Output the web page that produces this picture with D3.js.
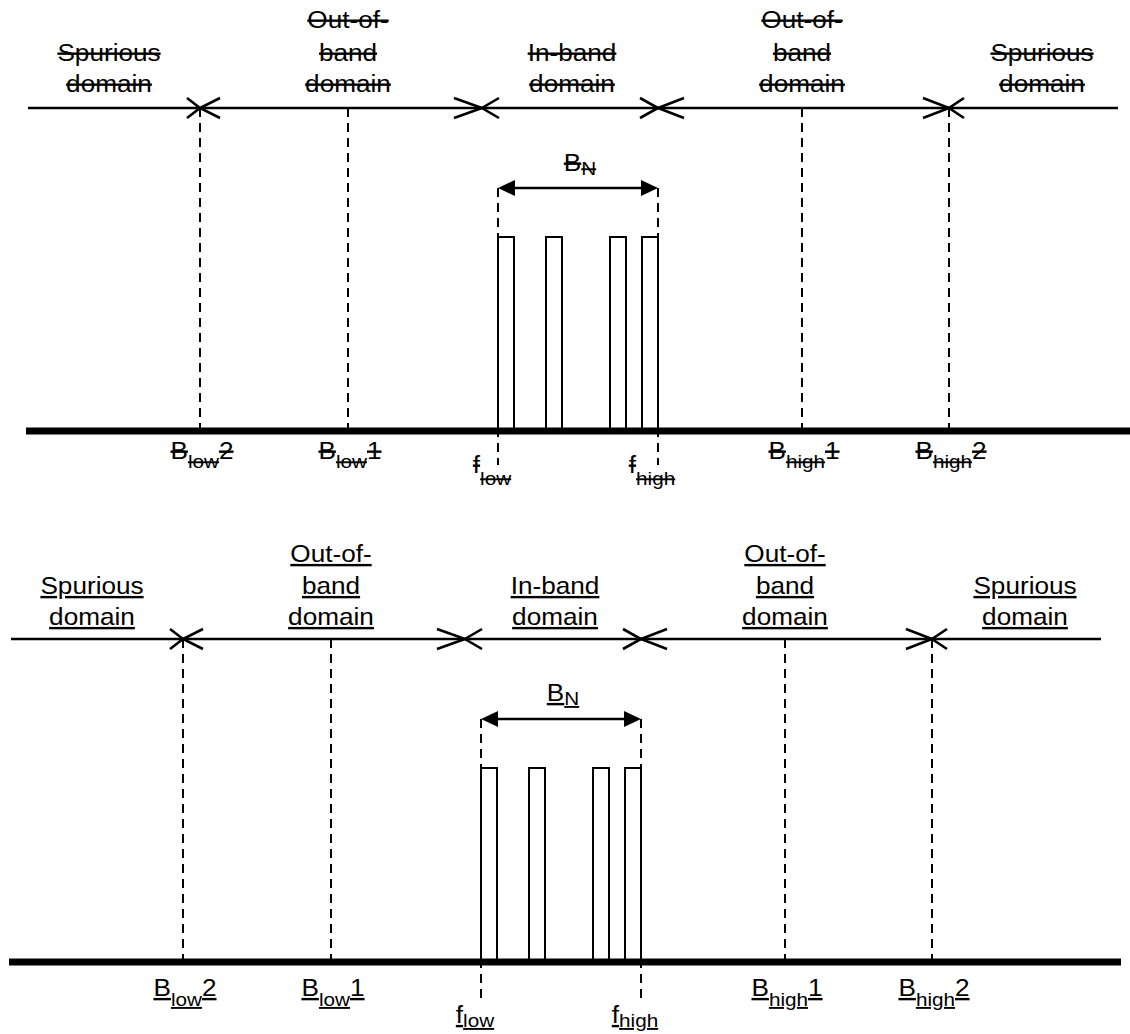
<!DOCTYPE html>
<html>
<head>
<meta charset="utf-8">
<script src="https://cdn.jsdelivr.net/npm/d3@7/dist/d3.min.js"></script>
<style>
  html, body { margin: 0; padding: 0; background: #fff; }
  svg { display: block; }
  text { font-family: "Liberation Sans", Arial, sans-serif; fill: #000; }
</style>
</head>
<body>
<svg id="chart" width="1130" height="1034"></svg>
<script>
// ---------------- data (frequency in units of the necessary bandwidth B_N, f_low = 0, f_high = 1) ----------------
const domainLabels = [
  ["Spurious", "domain"],
  ["Out-of-", "band", "domain"],
  ["In-band", "domain"],
  ["Out-of-", "band", "domain"],
  ["Spurious", "domain"]
];
const domainLabelFreq = [-2.43, -0.94, 0.46, 1.9, 3.4];
const domainBoundaries = [-1.865, -0.1, 1.0, 2.82];
const domainExtent = [-2.9375, 3.875];
const axisExtent = [-2.95, 4.0];

const tickFreq   = [-1.865, -0.94, 0, 1, 1.9, 2.82];
const tickMain   = ["B", "B", "f", "f", "B", "B"];
const tickSub    = ["low", "low", "low", "high", "high", "high"];
const tickSuffix = ["2", "1", "", "", "1", "2"];

const carrierStart = [0, 0.3, 0.7, 0.9];
const carrierEnd   = [0.1, 0.4, 0.8, 1.0];
const carrierLevel = [1, 1, 1, 1];

const bandwidthLabel = ["B", "N"];
const bandwidthSpan = [0, 1];

const panelDecoration = ["line-through", "underline"];

// ---------------- layout / style ----------------
const svg = d3.select("#chart");
const panels = [
  { dx: 0,   base: 431, top: 237, deco: panelDecoration[0],
    rowY: [28, 61, 92], bY: 459, bSub: 9, fY: 473, fSub: 12, bnY: 171, bnSub: 4, dashEnd: 34 },
  { dx: -17, base: 962, top: 768, deco: panelDecoration[1],
    rowY: [562, 594, 625], bY: 996, bSub: 10, fY: 1023, fSub: 4, bnY: 701, bnSub: 4, dashEnd: 37 }
];
const arrowLevel = 1.2526;
const domainLevel = 1.665;
const FS = 24, SUBFS = 19, SX = 1.09;
// arrowhead lengths at each segment end [left, right]
const headLen = [[0, 13], [20, 28], [17, 18], [26, 26], [15, 0]];
const headHalf = 10;

function label(g, x, y, parts, deco) {
  const t = g.append("text")
    .attr("transform", `translate(${x},${y}) scale(${SX},1)`)
    .attr("text-anchor", "middle");
  let cur = 0;
  parts.forEach(p => {
    if (!p.t) return;
    const dy = p.dy - cur;
    cur = p.dy;
    t.append("tspan")
      .attr("dy", dy)
      .style("font-size", p.size + "px")
      .style("text-decoration", deco)
      .text(p.t);
  });
  return t;
}

panels.forEach(P => {
  const g = svg.append("g");
  const x = d3.scaleLinear().domain([0, 1]).range([498 + P.dx, 658 + P.dx]).interpolate(d3.interpolateRound);
  const y = d3.scaleLinear().domain([0, 1]).range([P.base, P.top]).interpolate(d3.interpolateRound);
  const yDom = y(domainLevel);
  const yArr = y(arrowLevel);

  // vertical dashed boundary / tick lines
  tickFreq.forEach((f, i) => {
    const isEdge = tickMain[i] === "f";
    g.append("line")
      .attr("x1", x(f)).attr("x2", x(f))
      .attr("y1", isEdge ? yArr : yDom)
      .attr("y2", isEdge ? P.base + P.dashEnd : P.base)
      .attr("stroke", "#000").attr("stroke-width", 2)
      .attr("stroke-dasharray", "9,6");
  });

  // domain line segments with open arrowheads
  const edges = [domainExtent[0], ...domainBoundaries, domainExtent[1]];
  for (let s = 0; s < edges.length - 1; s++) {
    const xa = x(edges[s]), xb = x(edges[s + 1]);
    g.append("line")
      .attr("x1", xa).attr("x2", xb).attr("y1", yDom).attr("y2", yDom)
      .attr("stroke", "#000").attr("stroke-width", 2.5);
    const [hl, hr] = headLen[s];
    if (hl > 0) {
      g.append("path")
        .attr("d", `M${xa + hl},${yDom - headHalf}L${xa},${yDom}L${xa + hl},${yDom + headHalf}`)
        .attr("fill", "none").attr("stroke", "#000").attr("stroke-width", 2.6);
    }
    if (hr > 0) {
      g.append("path")
        .attr("d", `M${xb - hr},${yDom - headHalf}L${xb},${yDom}L${xb - hr},${yDom + headHalf}`)
        .attr("fill", "none").attr("stroke", "#000").attr("stroke-width", 2.6);
    }
  }

  // carriers
  g.selectAll("rect.carrier").data(carrierStart).enter().append("rect")
    .attr("class", "carrier")
    .attr("x", (d) => x(d))
    .attr("width", (d, i) => x(carrierEnd[i]) - x(d))
    .attr("y", (d, i) => y(carrierLevel[i]))
    .attr("height", (d, i) => y(0) - y(carrierLevel[i]))
    .attr("fill", "#fff").attr("stroke", "#000").attr("stroke-width", 2);

  // baseline (frequency axis)
  g.append("line")
    .attr("x1", x(axisExtent[0])).attr("x2", x(axisExtent[1]))
    .attr("y1", P.base).attr("y2", P.base)
    .attr("stroke", "#000").attr("stroke-width", 7);

  // B_N double arrow
  const xa = x(bandwidthSpan[0]), xb = x(bandwidthSpan[1]);
  g.append("line").attr("x1", xa + 14).attr("x2", xb - 14)
    .attr("y1", yArr).attr("y2", yArr).attr("stroke", "#000").attr("stroke-width", 2.5);
  g.append("path").attr("d", `M${xa},${yArr}L${xa + 17},${yArr - 8}L${xa + 17},${yArr + 8}Z`).attr("fill", "#000");
  g.append("path").attr("d", `M${xb},${yArr}L${xb - 17},${yArr - 8}L${xb - 17},${yArr + 8}Z`).attr("fill", "#000");
  label(g, (xa + xb) / 2 + 2, P.bnY, [
    { t: bandwidthLabel[0], size: FS, dy: 0 },
    { t: bandwidthLabel[1], size: SUBFS, dy: P.bnSub }
  ], P.deco);

  // domain labels
  domainLabels.forEach((lines, i) => {
    const n = lines.length;
    lines.forEach((ln, j) => {
      const row = 3 - n + j;
      label(g, x(domainLabelFreq[i]), P.rowY[row], [{ t: ln, size: FS, dy: 0 }], P.deco);
    });
  });

  // tick labels
  tickFreq.forEach((f, i) => {
    const isEdge = tickMain[i] === "f";
    label(g, x(f) + (isEdge ? -6 : 2), isEdge ? P.fY : P.bY, [
      { t: tickMain[i], size: FS, dy: 0 },
      { t: tickSub[i], size: SUBFS, dy: isEdge ? P.fSub : P.bSub },
      { t: tickSuffix[i], size: FS, dy: 0 }
    ], P.deco);
  });
});
</script>
</body>
</html>
